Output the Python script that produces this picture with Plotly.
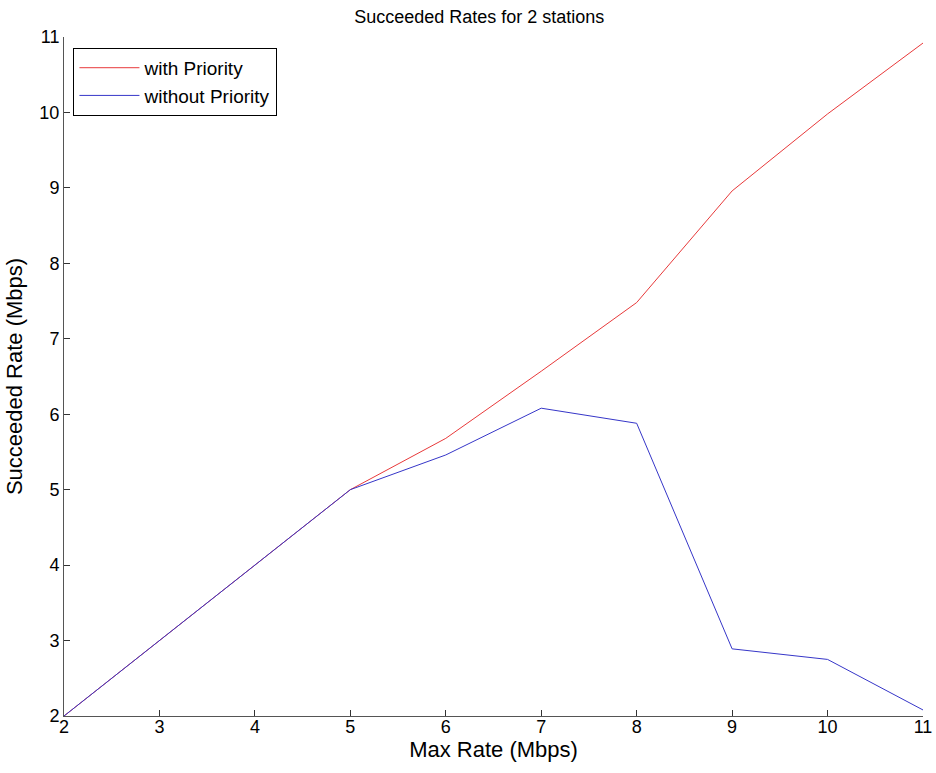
import plotly.graph_objects as go

max_rate = [2, 3, 4, 5, 6, 7, 8, 9, 10, 11]
with_priority = [2, 3, 4, 5, 5.68, 6.57, 7.48, 8.96, 9.98, 10.92]
without_priority = [2, 3, 4, 5, 5.46, 6.08, 5.88, 2.89, 2.75, 2.08]

fig = go.Figure()
fig.add_trace(go.Scatter(x=max_rate, y=with_priority, mode="lines", name="with Priority",
                         line=dict(color="#e8393a", width=1)))
fig.add_trace(go.Scatter(x=max_rate, y=without_priority, mode="lines", name="without Priority",
                         line=dict(color="#3636c8", width=1)))

font = "Liberation Sans, Arial, sans-serif"
fig.update_layout(
    width=936, height=773,
    paper_bgcolor="white", plot_bgcolor="white",
    margin=dict(l=64, r=13, t=37, b=57),
    font=dict(family=font, size=18, color="black"),
    title=dict(text="Succeeded Rates for 2 stations", x=0.512, xanchor="center",
               y=0.978, yanchor="middle", font=dict(size=18)),
    showlegend=True,
    legend=dict(x=0.011, y=0.984, xanchor="left", yanchor="top",
                bordercolor="black", borderwidth=1, bgcolor="white",
                font=dict(size=19), tracegroupgap=0, itemwidth=60),
    xaxis=dict(range=[2, 11], tickvals=max_rate, showgrid=False, zeroline=False,
               automargin=False, ticklabeloverflow="allow",
               showline=True, linecolor="#555", linewidth=1, ticks="inside", ticklen=6,
               tickcolor="#333", title=dict(text="Max Rate (Mbps)", standoff=3),
               ticklabelstandoff=-6,
               tickfont=dict(size=18)),
    yaxis=dict(range=[2, 11], tickvals=list(range(2, 12)), showgrid=False, zeroline=False,
               automargin=False, ticklabeloverflow="allow",
               showline=True, linecolor="#555", linewidth=1, ticks="inside", ticklen=6,
               tickcolor="#333", title=dict(text="Succeeded Rate (Mbps)", standoff=10),
               tickfont=dict(size=18)),
)
fig.write_html("out.html", config={"displayModeBar": False},
               post_script="document.body.style.margin='0';document.body.style.overflow='hidden';")
